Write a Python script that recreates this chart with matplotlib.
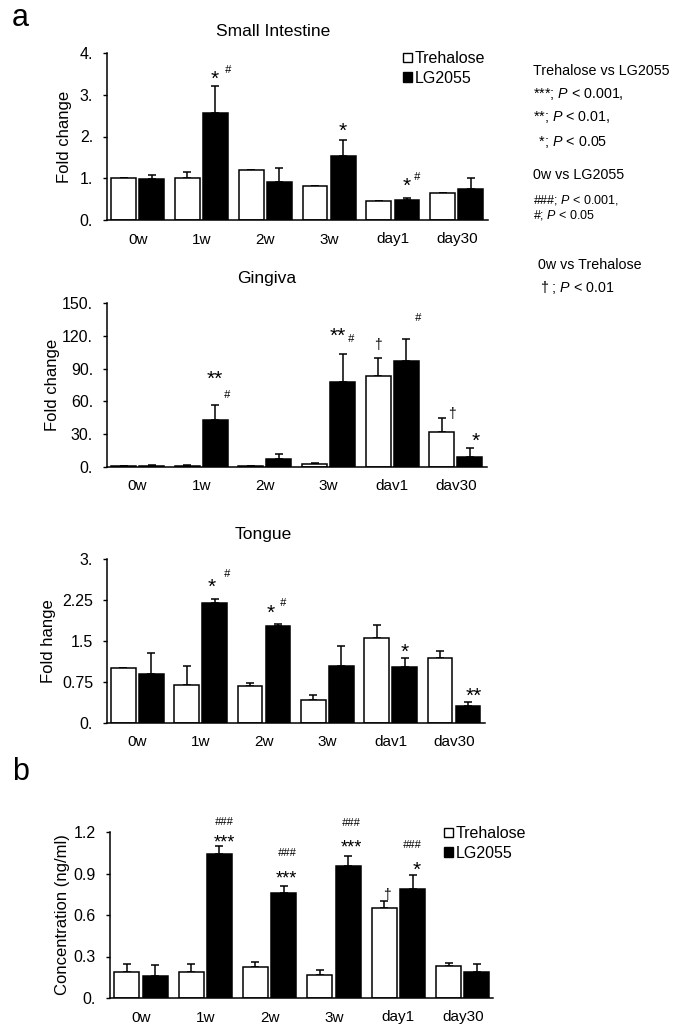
import numpy as np
import matplotlib
matplotlib.use("Agg")
import matplotlib.pyplot as plt
from matplotlib.patches import Patch

plt.rcParams['font.family'] = ['Liberation Sans', 'DejaVu Sans']
plt.rcParams['mathtext.fontset'] = 'custom'
plt.rcParams['mathtext.rm'] = 'Liberation Sans'
plt.rcParams['mathtext.it'] = 'Liberation Sans:italic'

W, H = 675, 1027

# ---------------- data ----------------
groups_a1 = ["0w", "1w", "2w", "3w", "day1", "day30"]
groups_a2 = ["0w", "1w", "2w", "3w", "dav1", "dav30"]
groups_a3 = ["0w", "1w", "2w", "3w", "dav1", "dav30"]
groups_b = ["0w", "1w", "2w", "3w", "day1", "day30"]

si_treh = [1.0, 1.0, 1.2, 0.81, 0.45, 0.64]
si_treh_err = [0.0, 0.15, 0.0, 0.0, 0.0, 0.0]
si_lg = [0.98, 2.57, 0.92, 1.54, 0.49, 0.74]
si_lg_err = [0.1, 0.63, 0.33, 0.38, 0.03, 0.26]

gi_treh = [0.8, 0.8, 0.8, 2.4, 83.5, 32.0]
gi_treh_err = [0.3, 0.6, 0.5, 1.5, 16.0, 13.0]
gi_lg = [1.2, 43.0, 7.5, 77.5, 96.5, 9.0]
gi_lg_err = [0.5, 14.0, 4.5, 25.5, 20.5, 8.0]

to_treh = [1.0, 0.70, 0.67, 0.42, 1.56, 1.18]
to_treh_err = [0.0, 0.34, 0.07, 0.09, 0.24, 0.13]
to_lg = [0.90, 2.19, 1.78, 1.04, 1.02, 0.31]
to_lg_err = [0.38, 0.08, 0.03, 0.36, 0.16, 0.07]

cb_treh = [0.19, 0.19, 0.222, 0.166, 0.654, 0.234]
cb_treh_err = [0.056, 0.056, 0.04, 0.04, 0.046, 0.022]
cb_lg = [0.157, 1.04, 0.757, 0.955, 0.79, 0.186]
cb_lg_err = [0.08, 0.056, 0.053, 0.075, 0.10, 0.058]

ticks_a1 = [0, 1, 2, 3, 4]
ticklabels_a1 = ["0.", "1.", "2.", "3.", "4."]
ticks_a2 = [0, 30, 60, 90, 120, 150]
ticklabels_a2 = ["0.", "30.", "60.", "90.", "120.", "150."]
ticks_a3 = [0, 0.75, 1.5, 2.25, 3]
ticklabels_a3 = ["0.", "0.75", "1.5", "2.25", "3."]
ticks_b = [0, 0.3, 0.6, 0.9, 1.2]
ticklabels_b = ["0.", "0.3", "0.6", "0.9", "1.2"]

# annotations: (group, series 0=Treh 1=LG, text, dx px, dy px above cap, size)
ann_a1 = [(1, 1, "*", -1, 7, 15), (1, 1, "#", 12, 16, 8),
          (3, 1, "*", 0, 9, 15),
          (4, 1, "*", 0, 12, 15), (4, 1, "#", 10, 21, 8)]
ann_a2 = [(1, 1, "**", 0, 25, 15), (1, 1, "#", 12, 10, 8),
          (3, 1, "**", -5, 18, 15), (3, 1, "#", 8, 15, 8),
          (4, 0, "\u2020", 0, 13, 10), (4, 1, "#", 12, 21, 8),
          (5, 0, "\u2020", 10, 4, 10), (5, 1, "*", 6, 7, 15)]
ann_a3 = [(1, 1, "*", -3, 12, 15), (1, 1, "#", 12, 25, 8),
          (2, 1, "*", -7, 11, 15), (2, 1, "#", 5, 21, 8),
          (4, 1, "*", 0, 6, 15),
          (5, 1, "**", 6, 6, 15)]
ann_b = [(1, 1, "###", 5, 24, 8), (1, 1, "***", 5, 3, 13),
         (2, 1, "###", 3, 33, 8), (2, 1, "***", 3, 7, 13),
         (3, 1, "###", 3, 33, 8), (3, 1, "***", 3, 8, 13),
         (4, 0, "\u2020", 3, 6, 10),
         (4, 1, "###", 0, 30, 8), (4, 1, "*", 4, 5, 15)]

fig = plt.figure(figsize=(W / 100, H / 100), dpi=100)


def px_axes(x0, ytop, x1, ybot):
    return fig.add_axes([x0 / W, 1 - ybot / H, (x1 - x0) / W, (ybot - ytop) / H])


def draw_panel(ax, labels, treh, treh_err, lg, lg_err, ylim, ticks, ticklabels,
               ann, xlim=(-0.48, 5.49), off=0.22, width=0.39):
    x = np.arange(len(labels))
    ax.bar(x - off, treh, width=width, color="white", edgecolor="black", linewidth=1.1, zorder=2)
    ax.bar(x + off, lg, width=width, color="black", edgecolor="black", linewidth=1.1, zorder=2)
    z = np.zeros(len(labels))
    ax.errorbar(x - off, treh, yerr=[z, treh_err], fmt="none", ecolor="black",
                elinewidth=1.1, capsize=3, capthick=1.1, zorder=1)
    ax.errorbar(x + off, lg, yerr=[z, lg_err], fmt="none", ecolor="black",
                elinewidth=1.1, capsize=3, capthick=1.1, zorder=1)
    ax.set_xlim(*xlim)
    ax.set_ylim(*ylim)
    ax.set_yticks(ticks)
    ax.set_yticklabels(ticklabels, fontsize=11.5)
    ax.set_xticks(x)
    ax.set_xticklabels(labels, fontsize=11)
    ax.tick_params(axis="x", length=0, pad=9)
    ax.tick_params(axis="y", length=3, width=1, pad=7, direction="out")
    for s in ["top", "right"]:
        ax.spines[s].set_visible(False)
    for s in ["left", "bottom"]:
        ax.spines[s].set_linewidth(1.1)
    ax.patch.set_alpha(0)
    for g, ser, txt, dx, dy, size in ann:
        if ser == 0:
            xx, top = x[g] - off, treh[g] + treh_err[g]
        else:
            xx, top = x[g] + off, lg[g] + lg_err[g]
        ax.annotate(txt, xy=(xx, top), xytext=(dx, dy), textcoords="offset pixels",
                    ha="center", va="center", fontsize=size,
                    fontstyle="italic" if "#" in txt else "normal")


ax1 = px_axes(107, 53, 488, 220)
draw_panel(ax1, groups_a1, si_treh, si_treh_err, si_lg, si_lg_err, (0, 4),
           ticks_a1, ticklabels_a1, ann_a1)
ax2 = px_axes(107, 303, 487, 467)
draw_panel(ax2, groups_a2, gi_treh, gi_treh_err, gi_lg, gi_lg_err, (0, 150),
           ticks_a2, ticklabels_a2, ann_a2)
ax3 = px_axes(107, 559, 485, 723)
draw_panel(ax3, groups_a3, to_treh, to_treh_err, to_lg, to_lg_err, (0, 3),
           ticks_a3, ticklabels_a3, ann_a3)
ax4 = px_axes(110, 832, 493, 998)
draw_panel(ax4, groups_b, cb_treh, cb_treh_err, cb_lg, cb_lg_err, (0, 1.2),
           ticks_b, ticklabels_b, ann_b, xlim=(-0.48, 5.47))


def ftext(px, py, s, **kw):
    fig.text(px / W, 1 - py / H, s, **kw)


# panel letters
ftext(12, 18, "a", fontsize=22, va="center", ha="left")
ftext(12, 772, "b", fontsize=22, va="center", ha="left")

# titles
ftext(273, 32, "Small Intestine", fontsize=12.5, ha="center", va="center")
ftext(267, 278, "Gingiva", fontsize=12.5, ha="center", va="center")
ftext(263, 535, "Tongue", fontsize=12.5, ha="center", va="center")

# y labels
ftext(65, 137, "Fold change", fontsize=12, rotation=90, ha="center", va="center")
ftext(52, 385, "Fold change", fontsize=12, rotation=90, ha="center", va="center")
ftext(48, 641, "Fold hange", fontsize=12, rotation=90, ha="center", va="center")
ftext(62, 915, "Concentration (ng/ml)", fontsize=12, rotation=90, ha="center", va="center")

# legends
handles = [Patch(facecolor="white", edgecolor="black", linewidth=1),
           Patch(facecolor="black", edgecolor="black", linewidth=1)]
leg_labels = ["Trehalose", "LG2055"]
for ax, (lx, ly) in [(ax1, (403, 51)), (ax4, (444, 826))]:
    ax.legend(handles, leg_labels, loc="upper left",
              bbox_to_anchor=(lx / W, 1 - ly / H), bbox_transform=fig.transFigure,
              frameon=False, fontsize=11.5, handlelength=0.55, handleheight=0.55,
              handletextpad=0.2, borderpad=0, borderaxespad=0, labelspacing=0.3)

# notes
notes = [
    (533, 71, "Trehalose vs LG2055"),
    (533, 94, "***; $P$ < 0.001,"),
    (533, 117, "**; $P$ < 0.01,"),
    (535, 142, " *; $P$ < 0.05"),
    (533, 175, "0w vs LG2055"),
    (533, 200, "###; $P$ < 0.001,"),
    (533, 215, "#; $P$ < 0.05"),
    (538, 265, "0w vs Trehalose"),
    (540, 288, "\u2020 ; $P$ < 0.01"),
]
for nx, ny, s in notes:
    size = 9 if "#" in s else 10.3
    ftext(nx, ny, s, fontsize=size, ha="left", va="center")

fig.savefig("out.png", dpi=100)
